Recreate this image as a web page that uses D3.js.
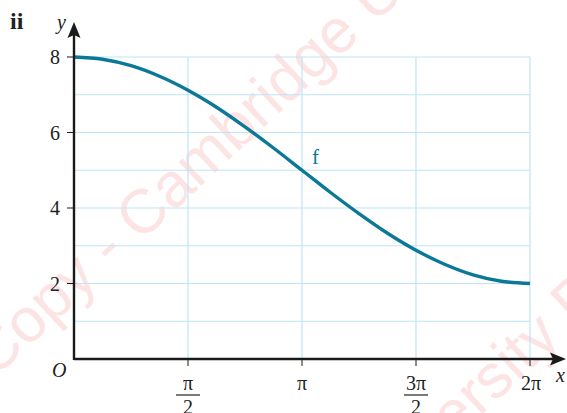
<!DOCTYPE html>
<html><head><meta charset="utf-8">
<script src="https://cdn.jsdelivr.net/npm/d3@7"></script>
<style>body{margin:0;background:#fff}svg{display:block}</style>
</head><body>
<svg id="c" width="567" height="413"></svg>
<script>
// x positions in multiples of pi/8, y values
const xSteps = [0,1,2,3,4,5,6,7,8,9,10,11,12,13,14,15,16];
const yVals  = [8,7.94,7.77,7.49,7.12,6.67,6.15,5.59,5.0,4.41,3.85,3.33,2.88,2.51,2.23,2.06,2.0];
const xTickSteps = [4,8,12,16];
const xTickLabels = [["π","2"],["π"],["3π","2"],["2π"]];
const yTicks = [2,4,6,8];
const yGrid = [1,2,3,4,5,6,7,8];
const watermark = "Copy - Cambridge University Press";

const svg = d3.select("#c");
const x = d3.scaleLinear().domain([0,2*Math.PI]).range([74,530]);
const y = d3.scaleLinear().domain([0,8]).range([359,57]);
const serif = "'Liberation Serif','DejaVu Serif',serif";
const teal = "#0a7896";

// watermark
const wm = svg.append("g").attr("fill","#fde4e4").attr("font-family","'Liberation Sans',sans-serif").attr("font-size",62);
wm.append("text").attr("transform","translate(-6,379) rotate(-43)").text(watermark);
wm.append("text").attr("transform","translate(-17,880) rotate(-43)").text(watermark);

// grid
const grid = svg.append("g").attr("stroke","#bfe5f6").attr("stroke-width",1.2);
grid.selectAll("line.h").data(yGrid).join("line")
  .attr("x1",x(0)).attr("x2",x(2*Math.PI)).attr("y1",d=>y(d)).attr("y2",d=>y(d));
grid.selectAll("line.v").data(xTickSteps).join("line")
  .attr("x1",d=>x(d*Math.PI/8)).attr("x2",d=>x(d*Math.PI/8)).attr("y1",y(0)).attr("y2",y(8));

// curve
const line = d3.line().x((d,i)=>x(xSteps[i]*Math.PI/8)).y(d=>y(d)).curve(d3.curveCatmullRom);
svg.append("path").datum(yVals).attr("d",line).attr("fill","none")
  .attr("stroke",teal).attr("stroke-width",3.4);

// axes
const ax = svg.append("g").attr("stroke","#1a1a1a");
ax.append("line").attr("x1",x(0)).attr("x2",555).attr("y1",y(0)).attr("y2",y(0)).attr("stroke-width",2.4);
ax.append("line").attr("x1",x(0)).attr("x2",x(0)).attr("y1",y(0)+1).attr("y2",33).attr("stroke-width",2.4);
svg.append("path").attr("d","M566,359 L550,352.5 L553,359 L550,365.5 Z").attr("fill","#1a1a1a");
svg.append("path").attr("d","M74,22 L67.5,38 L74,35 L80.5,38 Z").attr("fill","#1a1a1a");
ax.selectAll("line.yt").data(yTicks).join("line").attr("stroke-width",1)
  .attr("x1",67).attr("x2",x(0)).attr("y1",d=>y(d)).attr("y2",d=>y(d));
ax.selectAll("line.xt").data(xTickSteps).join("line").attr("stroke-width",1)
  .attr("x1",d=>x(d*Math.PI/8)).attr("x2",d=>x(d*Math.PI/8)).attr("y1",y(0)).attr("y2",y(0)+7);

// labels
const t = svg.append("g").attr("font-family",serif).attr("fill","#222");
t.selectAll("text.yl").data(yTicks).join("text").attr("x",60).attr("y",d=>y(d)+7)
  .attr("text-anchor","end").attr("font-size",20).text(d=>d);
xTickLabels.forEach((lab,i)=>{
  const cx = x(xTickSteps[i]*Math.PI/8) + (i===3?1:0);
  t.append("text").attr("x",cx).attr("y",390).attr("text-anchor","middle").attr("font-size",20).text(lab[0]);
  if(lab.length>1){
    t.append("line").attr("x1",cx-12).attr("x2",cx+12).attr("y1",395).attr("y2",395).attr("stroke","#222").attr("stroke-width",1.2);
    t.append("text").attr("x",cx).attr("y",414).attr("text-anchor","middle").attr("font-size",20).text(lab[1]);
  }
});
t.append("text").attr("x",52).attr("y",377).attr("font-size",20).attr("font-style","italic").text("O");
t.append("text").attr("x",57).attr("y",29).attr("font-size",20).attr("font-style","italic").text("y");
t.append("text").attr("x",556).attr("y",382).attr("font-size",20).attr("font-style","italic").text("x");
t.append("text").attr("x",10).attr("y",29).attr("font-size",24).attr("font-weight","bold").text("ii");
svg.append("text").attr("x",312).attr("y",164).attr("font-family",serif).attr("font-size",21).attr("fill",teal).text("f");
</script>
</body></html>
